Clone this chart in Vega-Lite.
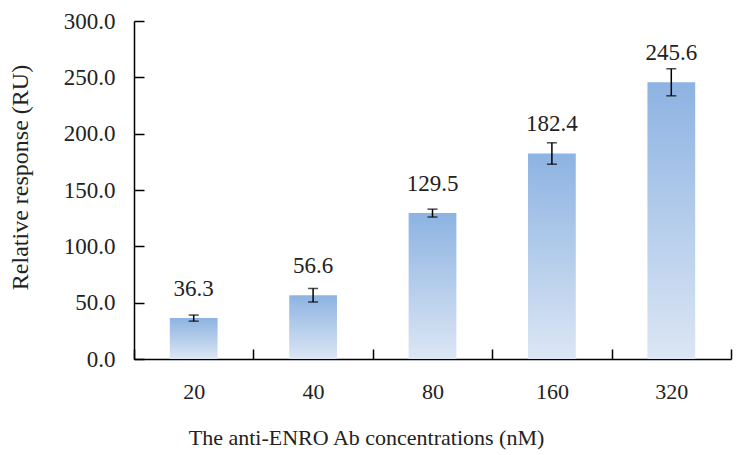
{
  "$schema": "https://vega.github.io/schema/vega-lite/v6.json",
  "width": 597,
  "height": 338,
  "autosize": "none",
  "padding": {"left": 134, "top": 21, "right": 9, "bottom": 96},
  "background": "white",
  "config": {
    "view": {"stroke": null},
    "font": "Times New Roman, Liberation Serif, serif",
    "axis": {"grid": false, "domainColor": "#000", "domainWidth": 1.5, "tickColor": "#000", "tickWidth": 1.5, "labelFont": "Times New Roman, Liberation Serif, serif", "titleFont": "Times New Roman, Liberation Serif, serif", "labelColor": "#222", "titleColor": "#222", "titleFontWeight": "normal"}
  },
  "data": {
    "values": [
      {"conc": "20", "value": 36.3, "err": 2.7},
      {"conc": "40", "value": 56.6, "err": 6.0},
      {"conc": "80", "value": 129.5, "err": 3.5},
      {"conc": "160", "value": 182.4, "err": 9.5},
      {"conc": "320", "value": 245.6, "err": 12.0}
    ]
  },
  "transform": [
    {"calculate": "datum.value - datum.err", "as": "lo"},
    {"calculate": "datum.value + datum.err", "as": "hi"}
  ],
  "resolve": {"axis": {"y": "independent"}},
  "encoding": {
    "x": {
      "field": "conc", "type": "nominal", "sort": null,
      "scale": {"paddingInner": 0, "paddingOuter": 0},
      "axis": {"title": "The anti-ENRO Ab concentrations (nM)", "labelAngle": 0, "labelFontSize": 22, "titleFontSize": 22, "tickBand": "extent", "tickSize": -10, "labelPadding": 32, "titleX": 232, "titleY": 78, "titleBaseline": "middle", "titleAnchor": null}
    }
  },
  "layer": [
    {
      "mark": {"type": "bar", "width": {"band": 0.4}, "fill": {"gradient": "linear", "x1": 0, "y1": 0, "x2": 0, "y2": 1, "stops": [{"offset": 0, "color": "#8DB3E2"}, {"offset": 1, "color": "#DCE6F4"}]}},
      "encoding": {
        "y": {
          "field": "value", "type": "quantitative",
          "scale": {"domain": [0, 300], "nice": false},
          "axis": {"title": "Relative response (RU)", "format": ".1f", "values": [0, 50, 100, 150, 200, 250, 300], "labelOverlap": false, "labelFontSize": 23, "titleFontSize": 24, "tickSize": -10, "labelPadding": 29, "titleX": -114, "titleY": 156, "titleBaseline": "middle", "titleAnchor": null}
        }
      }
    },
    {
      "mark": {"type": "rule", "color": "#000", "strokeWidth": 1.5},
      "encoding": {"y": {"field": "lo", "type": "quantitative", "axis": null}, "y2": {"field": "hi"}}
    },
    {
      "mark": {"type": "tick", "color": "#000", "size": 10, "thickness": 1.5},
      "encoding": {"y": {"field": "lo", "type": "quantitative", "axis": null}}
    },
    {
      "mark": {"type": "tick", "color": "#000", "size": 10, "thickness": 1.5},
      "encoding": {"y": {"field": "hi", "type": "quantitative", "axis": null}}
    },
    {
      "mark": {"type": "text", "fontSize": 23, "color": "#222", "dy": -29, "baseline": "middle", "font": "Times New Roman, Liberation Serif, serif"},
      "encoding": {"y": {"field": "value", "type": "quantitative", "axis": null}, "text": {"field": "value", "type": "quantitative", "format": ".1f"}}
    }
  ]
}
